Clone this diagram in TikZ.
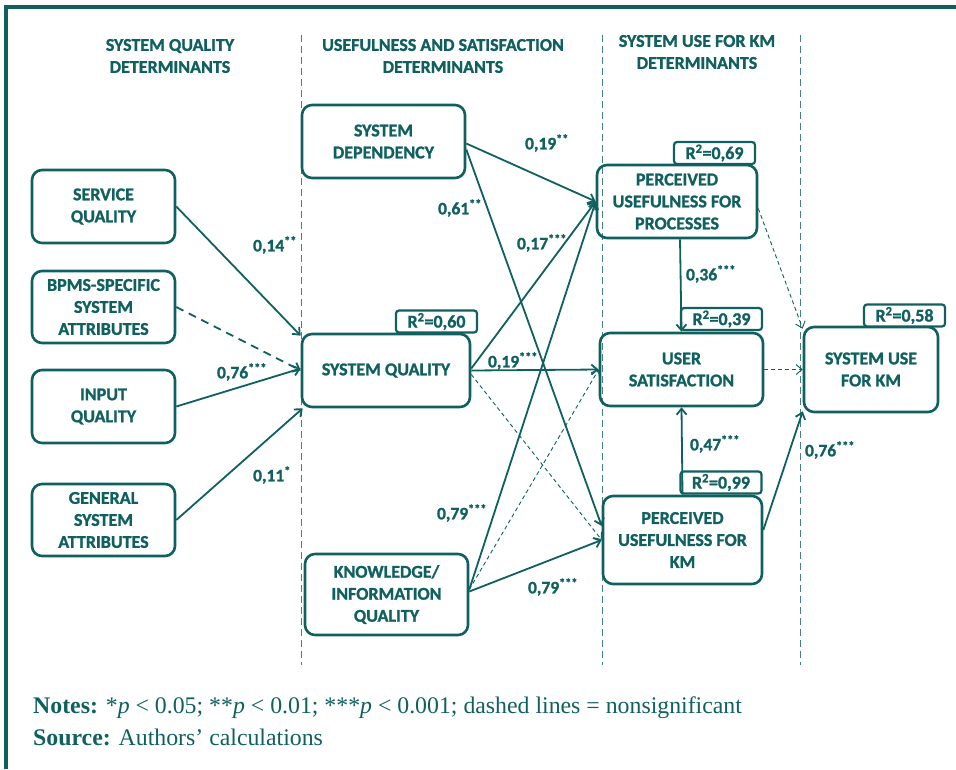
\documentclass[tikz,border=0pt]{standalone}
\usepackage{fontspec}
\setmainfont{Carlito}[BoldFeatures={FakeBold=1.2}]
\newfontfamily\notefont{Liberation Serif}
\usetikzlibrary{arrows.meta}
\definecolor{tealA}{RGB}{16,96,96}
\definecolor{tealB}{RGB}{70,130,130}
\begin{document}
\begin{tikzpicture}[x=1pt,y=-1pt,
  box/.style={draw=tealA, line width=2.6pt, rounded corners=10pt, align=center,
    font=\fontsize{18}{22}\selectfont\bfseries, text=tealA, inner sep=0pt},
  rbox/.style={draw=tealA, line width=2.2pt, rounded corners=3pt, fill=white,
    font=\fontsize{18}{18}\selectfont\bfseries, text=tealA, inner sep=0pt,
    minimum width=81pt, minimum height=22pt},
  conn/.style={draw=tealA, line width=1.8pt, -{Straight Barb[length=6pt,width=10pt]}},
  nsig/.style={draw=tealA, line width=0.9pt, dash pattern=on 4pt off 3pt, -{Straight Barb[length=6pt,width=10pt]}},
  nsigthick/.style={draw=tealA, line width=1.8pt, dash pattern=on 8pt off 6pt, -{Straight Barb[length=6pt,width=10pt]}},
  lbl/.style={text=tealA, font=\fontsize{17.5}{18}\selectfont\bfseries, inner sep=0pt},
  hdr/.style={text=tealA, font=\fontsize{18}{22}\selectfont\bfseries, align=center, inner sep=0pt},
  divider/.style={draw=tealB, line width=1pt, dash pattern=on 7pt off 4pt},
  note/.style={text=tealA, font=\notefont\fontsize{23.8}{26}\selectfont, inner sep=0pt, anchor=base west}
]
\useasboundingbox (0,0) rectangle (956,769);
\fill[white] (0,0) rectangle (956,769);
% frame
\draw[tealA, line width=3.5pt] (6,769) -- (6,7) -- (956,7);

% dividers
\coordinate (d1t) at (301,35); \coordinate (d1b) at (301,665);
\coordinate (d2t) at (602,35); \coordinate (d2b) at (602,665);
\coordinate (d3t) at (800,35); \coordinate (d3b) at (800,665);
\draw[divider] (d1t) -- (d1b);
\draw[divider] (d2t) -- (d2b);
\draw[divider] (d3t) -- (d3b);

% headers
\node[hdr] (h1) at (170,56) {SYSTEM QUALITY\\DETERMINANTS};
\node[hdr] (h2) at (443,56) {USEFULNESS AND SATISFACTION\\DETERMINANTS};
\node[hdr] (h3) at (697,52) {SYSTEM USE FOR KM\\DETERMINANTS};

% boxes
\node[box, minimum width=143pt, minimum height=73pt] (svc)  at (103.5,206.5) {SERVICE\\QUALITY};
\node[box, minimum width=143pt, minimum height=72pt] (bpms) at (103.5,307) {BPMS-SPECIFIC\\SYSTEM\\ATTRIBUTES};
\node[box, minimum width=143pt, minimum height=73pt] (inq)  at (103.5,406.5) {INPUT\\QUALITY};
\node[box, minimum width=143pt, minimum height=72pt] (gen)  at (103.5,520) {GENERAL\\SYSTEM\\ATTRIBUTES};
\node[box, minimum width=163pt, minimum height=73pt] (sd)   at (383.5,141.5) {SYSTEM\\DEPENDENCY};
\node[box, minimum width=168pt, minimum height=73pt] (sq)   at (386,370.5) {SYSTEM QUALITY};
\node[box, minimum width=163pt, minimum height=81pt] (kiq)  at (386.5,594.5) {KNOWLEDGE/\\INFORMATION\\QUALITY};
\node[box, minimum width=160pt, minimum height=73pt] (pup)  at (677,201.5) {PERCEIVED\\USEFULNESS FOR\\PROCESSES};
\node[box, minimum width=163pt, minimum height=73pt] (us)   at (681.5,369.5) {USER\\SATISFACTION};
\node[box, minimum width=159pt, minimum height=88pt] (pukm) at (682.5,540) {PERCEIVED\\USEFULNESS FOR\\KM};
\node[box, minimum width=134pt, minimum height=85pt] (sukm) at (871,369.5) {SYSTEM USE\\FOR KM};

% R^2 boxes
\node[rbox] (r60) at (436.5,321.5) {R\textsuperscript{2}=0,60};
\node[rbox] (r69) at (714.5,153) {R\textsuperscript{2}=0,69};
\node[rbox] (r39) at (721.5,319) {R\textsuperscript{2}=0,39};
\node[rbox] (r58) at (904.5,315.5) {R\textsuperscript{2}=0,58};
\node[rbox] (r99) at (721,482.5) {R\textsuperscript{2}=0,99};

% connectors
\draw[conn] (svc.east) -- ([yshift=-3pt]sq.north west);
\draw[nsigthick] (bpms.east) -- (sq.west);
\draw[conn] (inq.east) -- ([yshift=2pt]sq.west);
\draw[conn] (gen.east) -- ([xshift=2pt]sq.south west);
\draw[conn] ([yshift=-2pt]sd.east) -- (pup.west);
\draw[conn] ([yshift=-8pt]sd.east) -- ([yshift=14pt]pukm.west);
\draw[conn] ([yshift=2pt]sq.east) -- (pup.west);
\draw[conn] (sq.east) -- (us.west);
\draw[nsig] ([yshift=-4pt]sq.east) -- (pukm.west);
\draw[conn] ([yshift=5pt]kiq.east) -- (pup.west);
\draw[nsig] ([yshift=5pt]kiq.east) -- (us.west);
\draw[conn] ([yshift=3pt]kiq.east) -- (pukm.west);
\draw[conn] ([xshift=3pt]pup.south) -- (us.north);
\draw[conn] (pukm.north) -- (us.south);
\draw[nsig] ([yshift=-7pt]pup.east) -- ([yshift=-3pt]sukm.north west);
\draw[nsig] (us.east) -- (sukm.west);
\draw[conn] ([yshift=10pt]pukm.east) -- ([yshift=2pt]sukm.south west);

% labels
\node[lbl] (l1)  at (275,245) {0,14\textsuperscript{**}};
\node[lbl] (l2)  at (242,372) {0,76\textsuperscript{***}};
\node[lbl] (l3)  at (272,475) {0,11\textsuperscript{*}};
\node[lbl] (l4)  at (547,143) {0,19\textsuperscript{**}};
\node[lbl] (l5)  at (460,208) {0,61\textsuperscript{**}};
\node[lbl] (l6)  at (542,243) {0,17\textsuperscript{***}};
\node[lbl] (l7)  at (513,361) {0,19\textsuperscript{***}};
\node[lbl] (l8)  at (462,513) {0,79\textsuperscript{***}};
\node[lbl] (l9)  at (553,587) {0,79\textsuperscript{***}};
\node[lbl] (l10) at (711,274) {0,36\textsuperscript{***}};
\node[lbl] (l11) at (715,444) {0,47\textsuperscript{***}};
\node[lbl] (l12) at (830,450) {0,76\textsuperscript{***}};

% notes
\node[note] (n1) at (33,713) {\textbf{Notes:} *\textit{p} < 0.05; **\textit{p} < 0.01; ***\textit{p} < 0.001; dashed lines = nonsignificant};
\node[note] (n2) at (33,745) {\textbf{Source:} Authors’ calculations};
\end{tikzpicture}
\end{document}
